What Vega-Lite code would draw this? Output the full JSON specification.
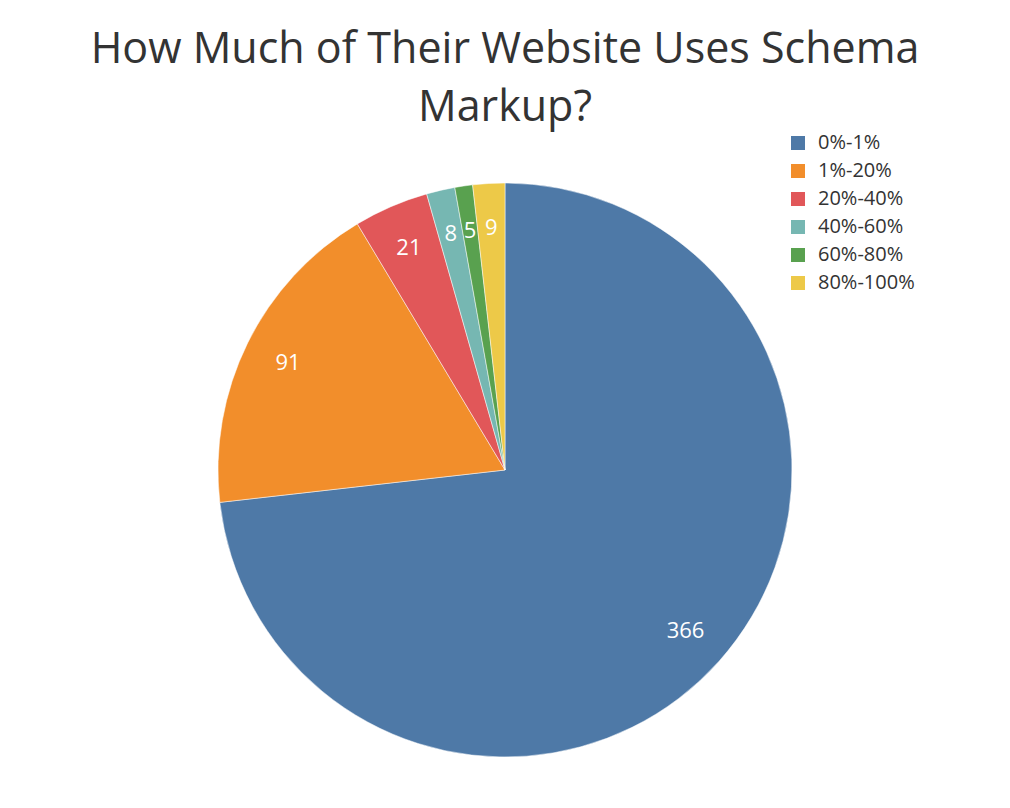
{
  "$schema": "https://vega.github.io/schema/vega-lite/v6.json",
  "autosize": "none",
  "width": 574,
  "height": 574,
  "padding": {"top": 183, "left": 218, "right": 218, "bottom": 51},
  "background": "white",
  "config": {"view": {"stroke": null}, "font": "Open Sans"},
  "title": {
    "text": ["How Much of Their Website Uses Schema", "Markup?"],
    "fontSize": 43,
    "fontWeight": "normal",
    "font": "Open Sans",
    "color": "#333333",
    "lineHeight": 58,
    "anchor": "middle",
    "offset": 3
  },
  "data": {
    "values": [
      {"range": "0%-1%", "count": 366, "order": 1},
      {"range": "1%-20%", "count": 91, "order": 2},
      {"range": "20%-40%", "count": 21, "order": 3},
      {"range": "40%-60%", "count": 8, "order": 4},
      {"range": "60%-80%", "count": 5, "order": 5},
      {"range": "80%-100%", "count": 9, "order": 6}
    ]
  },
  "encoding": {
    "theta": {"field": "count", "type": "quantitative", "stack": true},
    "order": {"field": "order", "type": "quantitative"}
  },
  "layer": [
    {
      "mark": {"type": "arc", "stroke": "white", "strokeWidth": 0.5},
      "encoding": {
        "color": {
          "field": "range",
          "type": "nominal",
          "sort": ["0%-1%", "1%-20%", "20%-40%", "40%-60%", "60%-80%", "80%-100%"],
          "scale": {
            "domain": ["0%-1%", "1%-20%", "20%-40%", "40%-60%", "60%-80%", "80%-100%"],
            "range": ["#4e79a7", "#f28e2b", "#e15759", "#76b7b2", "#59a14f", "#edc948"]
          },
          "legend": {
            "title": null,
            "orient": "none",
            "legendX": 570,
            "legendY": -50,
            "symbolType": "square",
            "symbolSize": 196,
            "symbolStrokeWidth": 0,
            "labelFontSize": 20,
            "labelFont": "Open Sans",
            "labelColor": "#333333",
            "labelOffset": 10,
            "rowPadding": 8
          }
        }
      }
    },
    {
      "mark": {"type": "text", "radius": 242, "fontSize": 22, "color": "white", "font": "Open Sans"},
      "encoding": {"text": {"field": "count", "type": "quantitative"}}
    }
  ]
}
